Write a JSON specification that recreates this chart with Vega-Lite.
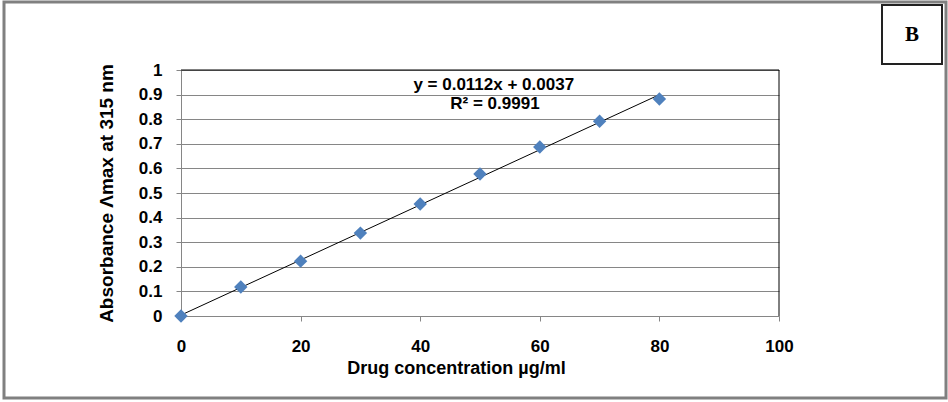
{
  "$schema": "https://vega.github.io/schema/vega-lite/v6.json",
  "width": 598,
  "height": 246,
  "autosize": {"type": "none"},
  "padding": {"left": 181, "top": 70, "right": 169, "bottom": 86},
  "background": "white",
  "config": {
    "view": {"stroke": null},
    "font": "Liberation Sans"
  },
  "datasets": {
    "points": [
      {"conc": 0, "abs": 0.0},
      {"conc": 10, "abs": 0.118},
      {"conc": 20, "abs": 0.223},
      {"conc": 30, "abs": 0.337},
      {"conc": 40, "abs": 0.455},
      {"conc": 50, "abs": 0.577},
      {"conc": 60, "abs": 0.687},
      {"conc": 70, "abs": 0.792},
      {"conc": 80, "abs": 0.882}
    ],
    "trend": [
      {"conc": 0, "abs": 0.0037},
      {"conc": 80, "abs": 0.8997}
    ],
    "labels": [
      {"conc": 52.3, "abs": 0.94, "text": "y = 0.0112x + 0.0037"},
      {"conc": 52.5, "abs": 0.86, "text": "R² = 0.9991"}
    ]
  },
  "encoding": {
    "x": {
      "field": "conc", "type": "quantitative",
      "scale": {"domain": [0, 100], "nice": false, "zero": true},
      "axis": {
        "values": [0, 20, 40, 60, 80, 100],
        "title": "Drug concentration µg/ml",
        "titleFont": "Liberation Sans",
        "titleFontSize": 18,
        "titleFontWeight": "bold",
        "titleColor": "black",
        "titlePadding": 5,
        "titleX": 275,
        "labelFont": "Liberation Sans",
        "labelFontSize": 17,
        "labelFontWeight": "bold",
        "labelColor": "black",
        "labelPadding": 17,
        "labelFlush": false,
        "labelOverlap": false,
        "domainColor": "#868686",
        "tickColor": "#868686",
        "tickSize": 5,
        "grid": false
      }
    },
    "y": {
      "field": "abs", "type": "quantitative",
      "scale": {"domain": [0, 1], "nice": false},
      "axis": {
        "values": [0, 0.1, 0.2, 0.3, 0.4, 0.5, 0.6, 0.7, 0.8, 0.9, 1],
        "format": "~g",
        "title": "Absorbance Λmax at 315 nm",
        "titleFont": "Liberation Sans",
        "titleFontSize": 19,
        "titleFontWeight": "bold",
        "titleColor": "black",
        "titlePadding": 22,
        "labelFont": "Liberation Sans",
        "labelFontSize": 17,
        "labelFontWeight": "bold",
        "labelColor": "black",
        "labelPadding": 14,
        "labelFlush": false,
        "labelOverlap": false,
        "domainColor": "#868686",
        "tickColor": "#868686",
        "tickSize": 5,
        "grid": true,
        "gridColor": "#868686",
        "gridWidth": 1
      }
    }
  },
  "layer": [
    {
      "data": {"values": [{}]},
      "mark": {"type": "rect", "fill": null, "stroke": "#808080", "strokeWidth": 3, "clip": false},
      "encoding": {
        "x": {"value": -177},
        "x2": {"value": 765},
        "y": {"value": -68},
        "y2": {"value": 328}
      }
    },
    {
      "data": {"values": [{}]},
      "mark": {"type": "rect", "fill": "white", "stroke": "#222222", "strokeWidth": 2, "clip": false},
      "encoding": {
        "x": {"value": 701},
        "x2": {"value": 761},
        "y": {"value": -65},
        "y2": {"value": -6}
      }
    },
    {
      "data": {"values": [{}]},
      "mark": {"type": "text", "text": "B", "font": "Liberation Serif", "fontWeight": "bold", "fontSize": 21, "color": "black", "clip": false, "align": "center", "baseline": "middle"},
      "encoding": {
        "x": {"value": 731},
        "y": {"value": -35}
      }
    },
    {
      "data": {"values": [{}]},
      "mark": {"type": "rule", "color": "black", "strokeWidth": 1},
      "encoding": {
        "x": {"value": 0},
        "x2": {"value": 598},
        "y": {"value": 0}
      }
    },
    {
      "data": {"values": [{}]},
      "mark": {"type": "rule", "color": "black", "strokeWidth": 1},
      "encoding": {
        "x": {"value": 598},
        "y": {"value": 0},
        "y2": {"value": 246}
      }
    },
    {
      "data": {"name": "trend"},
      "mark": {"type": "line", "color": "black", "strokeWidth": 1}
    },
    {
      "data": {"name": "points"},
      "mark": {"type": "point", "shape": "diamond", "filled": true, "color": "#4F81BD", "opacity": 1, "size": 180, "clip": false}
    },
    {
      "data": {"name": "labels"},
      "mark": {"type": "text", "fontWeight": "bold", "fontSize": 17, "color": "black", "font": "Liberation Sans", "align": "center", "baseline": "middle"},
      "encoding": {
        "text": {"field": "text"}
      }
    }
  ]
}
